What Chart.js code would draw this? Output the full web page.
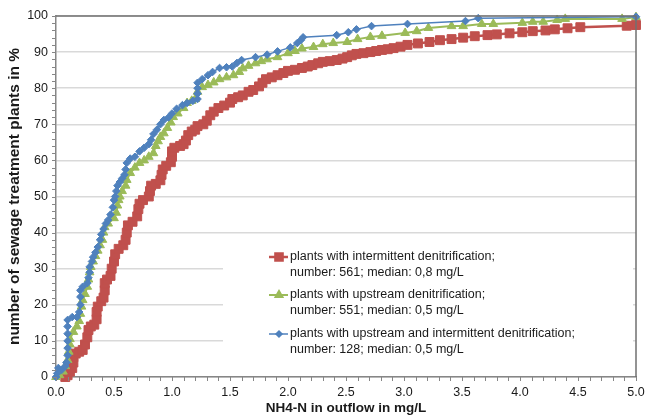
<!DOCTYPE html>
<html>
<head>
<meta charset="utf-8">
<script src="https://cdn.jsdelivr.net/npm/chart.js@4.4.1/dist/chart.umd.min.js"></script>
<style>
  html, body { margin: 0; padding: 0; background: #fff; }
  #wrap { width: 646px; height: 416px; position: relative; }
</style>
</head>
<body>
<div id="wrap"><canvas id="cdf"></canvas></div>
<script>
// NH4-N in outflow (mg/L) vs cumulative share of plants (%)
const xTicks = [0, 0.5, 1, 1.5, 2, 2.5, 3, 3.5, 4, 4.5, 5];
const yTicks = [0, 10, 20, 30, 40, 50, 60, 70, 80, 90, 100];

const legendLines = [
  ['plants with intermittent denitrification;', 'number: 561; median: 0,8 mg/L'],
  ['plants with upstream denitrification;', 'number: 551; median: 0,5 mg/L'],
  ['plants with upstream and intermittent denitrification;', 'number: 128; median: 0,5 mg/L']
];

const redX = [0.08,0.1,0.12,0.14,0.15,0.15,0.17,0.2,0.23,0.25,0.27,0.28,0.3,0.33,0.35,0.35,0.36,0.39,0.41,0.42,
  0.42,0.44,0.47,0.48,0.5,0.51,0.54,0.58,0.6,0.61,0.62,0.66,0.7,0.71,0.72,0.75,0.8,0.81,0.82,0.86,
  0.9,0.91,0.92,0.95,0.99,1.0,1.0,1.02,1.07,1.1,1.12,1.14,1.17,1.2,1.22,1.27,1.3,1.33,1.36,1.4,
  1.45,1.5,1.52,1.57,1.61,1.66,1.7,1.75,1.78,1.81,1.86,1.91,1.96,2.0,2.06,2.12,2.17,2.21,2.26,2.3,
  2.36,2.42,2.47,2.51,2.55,2.59,2.65,2.71,2.76,2.81,2.86,2.91,2.97,3.03,3.12,3.22,3.31,3.41,3.51,3.61,
  3.72,3.8,3.91,4.02,4.11,4.22,4.3,4.41,4.52,4.92,5.0];
const redY = [0,0.5,1.5,2.5,4,5.5,6.5,7,7.5,9,11,13,14,14.5,16,18,19.5,21,22,24,
  26,27,28,30,32,34,35.5,36.5,38,40,42,43,44.5,46.5,48,49,50,51.5,53,53.5,
  54.5,56,57.5,58.5,59.5,61,62.5,63.5,64,64.5,65.5,67,68,68.5,69.5,70,71,72.5,73.5,74.5,
  75.2,76,77,77.5,78,79,79.5,80.5,81.5,82.5,83,83.6,84.2,84.8,85.1,85.6,86,86.4,86.9,87.3,
  87.5,87.8,88.2,88.6,89.1,89.5,89.7,90,90.3,90.6,90.8,91.1,91.5,92,92.4,92.8,93.3,93.6,94,94.4,
  94.7,94.9,95.2,95.5,95.8,96,96.3,96.6,96.9,97.3,97.5];

const greenX = [0,0.03,0.06,0.08,0.1,0.11,0.12,0.12,0.15,0.18,0.2,0.21,0.22,0.23,0.25,0.27,0.28,0.29,0.3,0.32,
  0.34,0.36,0.38,0.4,0.41,0.42,0.45,0.5,0.52,0.53,0.54,0.55,0.57,0.6,0.61,0.64,0.68,0.72,0.76,0.8,
  0.84,0.86,0.88,0.9,0.93,0.96,0.99,1.01,1.05,1.1,1.13,1.17,1.2,1.22,1.26,1.31,1.36,1.41,1.47,1.53,
  1.58,1.61,1.66,1.72,1.77,1.82,1.91,2.0,2.06,2.12,2.22,2.3,2.39,2.51,2.6,2.71,2.81,3.01,3.11,3.21,
  3.41,3.51,3.67,3.77,4.02,4.11,4.2,4.32,4.39,4.88,5.0];
const greenY = [0,0.5,1.5,3,4.7,7,9,10.5,12.5,14,15.5,17.5,19.5,21.3,23,25,27,29,30.5,32,
  33.5,35,36.5,38,40,41.5,42.5,44,45.5,47.5,49,50,51.5,53,54.6,56.5,58,59.3,60,61,
  62,64,65.3,66.5,67.5,69,70.5,72,73,74.5,75.9,76.5,77,79,80.3,80.9,81.6,82.5,83,83.6,
  84.5,85.5,86.2,86.9,87.5,88,88.6,89.7,90.3,91,91.4,92.2,92.5,92.8,93.6,94.2,94.5,95.3,95.8,96.7,
  97.2,97.2,97.8,97.8,98.1,98.4,98.4,98.9,99.2,99.2,99.7];

const blueX = [0,0.01,0.02,0.05,0.08,0.09,0.1,0.1,0.1,0.1,0.1,0.1,0.14,0.18,0.2,0.21,0.21,0.21,0.23,0.27,
  0.28,0.29,0.29,0.31,0.32,0.34,0.36,0.38,0.39,0.41,0.43,0.45,0.47,0.49,0.5,0.51,0.52,0.53,0.55,0.57,
  0.59,0.6,0.61,0.64,0.68,0.72,0.76,0.8,0.82,0.84,0.87,0.9,0.93,0.97,1.0,1.04,1.09,1.13,1.18,1.22,
  1.22,1.22,1.22,1.26,1.31,1.35,1.41,1.47,1.52,1.56,1.6,1.72,1.82,1.91,2.02,2.08,2.11,2.13,2.42,2.52,
  2.59,2.72,3.03,3.53,3.64,5.0];
const blueY = [0,1,2.5,2,3,4,6,8,10,12,14,15.8,16.6,16.6,18,20,22.2,24,25,26,
  27.5,29,30.5,32,33.2,34.5,36,38,39.5,41,42.5,43.5,45,47,49,50,51.5,53,54,55,
  56,57.5,59.3,60.5,61,62.5,63.5,64.5,65.7,67.3,68.5,70,71.2,71.9,73,74.3,75.3,75.9,76.5,77,
  78.5,80,81.5,82.5,83.6,84.5,85.6,85.8,86,87,87.8,88.6,89.3,90.2,91.3,92.5,93.3,94.1,94.7,95.5,
  96.3,97.2,97.8,98.6,99.4,99.8];

const RED = '#C0504D', GREEN = '#9BBB59', BLUE = '#4F81BD';
const AXIS = '#868686';
const FONT = '"Liberation Sans", Arial, sans-serif';

function pts(xs, ys) {
  return xs.map((x, i) => ({ x: x, y: ys[i] }));
}

const seriesStyle = [
  { color: RED, style: 'rect', radius: 6.3, width: 2.5 },
  { color: GREEN, style: 'triangle', radius: 5, width: 2 },
  { color: BLUE, style: 'rectRot', radius: 3.8, width: 1.5 }
];

// extra bits: minor ticks, plot frame, legend box inside the plot
const extras = {
  id: 'extras',
  afterDatasetsDraw(chart) {
    const ctx = chart.ctx;
    const xs = chart.scales.x, ys = chart.scales.y;
    const a = chart.chartArea;
    ctx.save();
    ctx.strokeStyle = AXIS;
    ctx.lineWidth = 1;
    ctx.beginPath();
    for (let v = 0; v <= 100; v += 2) {
      const py = Math.round(ys.getPixelForValue(v)) + 0.5;
      ctx.moveTo(a.left - 4, py); ctx.lineTo(a.left, py);
    }
    for (let k = 0; k <= 50; k++) {
      const px = Math.round(xs.getPixelForValue(k / 10)) + 0.5;
      ctx.moveTo(px, a.bottom); ctx.lineTo(px, a.bottom + 4);
    }
    ctx.stroke();
    ctx.lineWidth = 1.5;
    ctx.strokeStyle = '#707070';
    ctx.beginPath();
    ctx.moveTo(a.left, a.top); ctx.lineTo(a.right, a.top); ctx.lineTo(a.right, a.bottom);
    ctx.stroke();

    // legend
    ctx.fillStyle = '#fff';
    ctx.fillRect(223, 242, 410, 124);
    ctx.font = '12.5px ' + FONT;
    ctx.textBaseline = 'middle';
    const rows = [257, 295, 334];
    legendLines.forEach((lines, i) => {
      const s = seriesStyle[i];
      const y = rows[i];
      ctx.strokeStyle = s.color;
      ctx.lineWidth = s.width;
      ctx.beginPath(); ctx.moveTo(269, y); ctx.lineTo(288, y); ctx.stroke();
      ctx.fillStyle = s.color;
      Chart.helpers.drawPoint(ctx, { pointStyle: s.style, radius: s.radius * 0.8, borderWidth: 1 }, 279, y);
      ctx.fill();
      ctx.fillStyle = '#1a1a1a';
      ctx.fillText(lines[0], 290, y);
      ctx.fillText(lines[1], 290, y + 16);
    });
    ctx.restore();
  }
};

const datasets = [
  { data: pts(redX, redY), order: 3 },
  { data: pts(greenX, greenY), order: 2 },
  { data: pts(blueX, blueY), order: 1 }
].map((d, i) => Object.assign(d, {
  label: legendLines[i].join(' '),
  borderColor: seriesStyle[i].color,
  backgroundColor: seriesStyle[i].color,
  borderWidth: seriesStyle[i].width,
  pointStyle: seriesStyle[i].style,
  pointRadius: seriesStyle[i].radius,
  pointBorderWidth: 1,
  pointHoverRadius: seriesStyle[i].radius,
  tension: 0,
  clip: 8
}));

new Chart(document.getElementById('cdf').getContext('2d'), {
  type: 'line',
  data: { datasets },
  options: {
    responsive: true,
    maintainAspectRatio: false,
    animation: false,
    layout: { padding: { top: 16, right: 10, left: 0, bottom: 0 } },
    plugins: { legend: { display: false }, tooltip: { enabled: false } },
    scales: {
      x: {
        type: 'linear', min: 0, max: 5,
        afterBuildTicks: s => { s.ticks = xTicks.map(v => ({ value: v })); },
        afterFit: s => { s.height = 39; s.paddingLeft = 0; s.paddingRight = 0; },
        grid: { drawOnChartArea: false, drawTicks: false, tickLength: 0 },
        border: { color: AXIS, width: 1.5 },
        ticks: { padding: 8, color: '#1a1a1a', font: { family: FONT, size: 12.5 }, maxRotation: 0,
                 callback: v => v.toFixed(1) },
        title: { display: true, text: 'NH4-N in outflow in mg/L', color: '#1a1a1a',
                 font: { family: FONT, size: 13.5, weight: 'bold' }, padding: { top: 0, bottom: 0 } }
      },
      y: {
        min: 0, max: 100,
        afterBuildTicks: s => { s.ticks = yTicks.map(v => ({ value: v })); },
        afterFit: s => { s.width = 56; s.paddingTop = 0; s.paddingBottom = 0; },
        grid: { color: '#D9D9D9', lineWidth: 1.5, drawTicks: false },
        border: { color: AXIS, width: 1.5 },
        ticks: { padding: 8, color: '#1a1a1a', font: { family: FONT, size: 12.5 } },
        title: { display: true, text: 'number of sewage treatment plants in %', color: '#1a1a1a',
                 font: { family: FONT, size: 15.5, weight: 'bold' }, padding: { top: 5, bottom: 0 } }
      }
    }
  },
  plugins: [extras]
});
</script>
</body>
</html>
